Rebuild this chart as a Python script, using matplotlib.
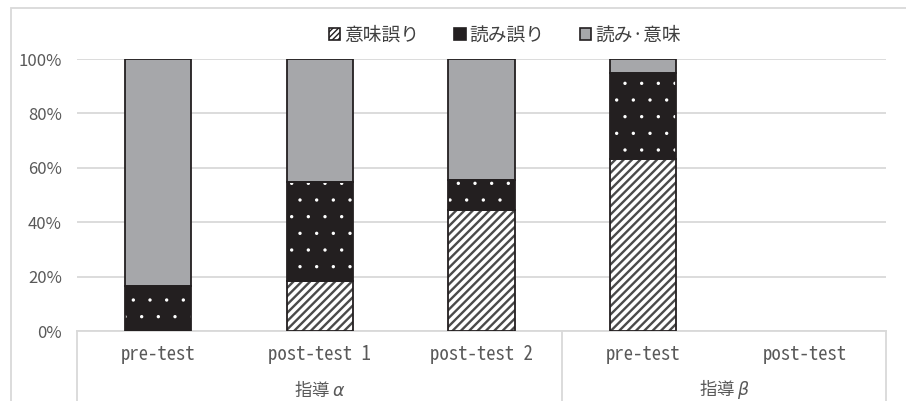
import matplotlib
matplotlib.use("Agg")
import matplotlib.pyplot as plt
import matplotlib.ticker as mticker
from matplotlib.patches import Patch, Rectangle
import numpy as np

plt.rcParams["font.family"] = ["Noto Sans CJK JP", "DejaVu Sans"]
plt.rcParams["mathtext.fontset"] = "dejavusans"

# カテゴリ / グループ
categories = ["pre-test", "post-test 1", "post-test 2", "pre-test", "post-test"]
group_labels = [r"指導 $\alpha$", r"指導 $\beta$"]
group_sizes = [3, 2]

# 各区分の割合 (%)
imi_err = [0.0, 18.2, 44.4, 63.2, 0.0]     # 意味誤り
yomi_err = [16.7, 36.4, 11.1, 31.6, 0.0]   # 読み誤り
yomi_imi = [83.3, 45.4, 44.5, 5.2, 0.0]    # 読み・意味
series_names = ["意味誤り", "読み誤り", "読み·意味"]

GRID = "#d9d9d9"
TXT = "#595959"
EDGE = "#231f20"
GRAY = "#a6a7aa"
MONO = ["Noto Sans Mono CJK JP", "DejaVu Sans Mono"]

fig = plt.figure(figsize=(9.06, 4.01), dpi=100)
ax = fig.add_axes([77 / 906, 1 - 331 / 401, 809 / 906, 272 / 401])

x = np.arange(len(categories))
w = 0.41


def draw_segment(xs, bottoms, heights, face, hatch=None, hatch_color=None, hatch_lw=1.0):
    for xi, b, h in zip(xs, bottoms, heights):
        if h <= 0:
            continue
        with plt.rc_context({"hatch.linewidth": hatch_lw}):
            if hatch:
                ax.bar(xi, h, w, bottom=b, color=face, edgecolor=hatch_color,
                       hatch=hatch, linewidth=0, zorder=3)
            else:
                ax.bar(xi, h, w, bottom=b, color=face, linewidth=0, zorder=3)
        ax.bar(xi, h, w, bottom=b, fill=False, edgecolor=EDGE,
               linewidth=1.3, zorder=4)


b0 = np.zeros(len(x))
draw_segment(x, b0, imi_err, "white", "////", "#4a4a4a", 1.7)
b1 = b0 + np.array(imi_err)
draw_segment(x, b1, yomi_err, EDGE, ".", "white", 0.0)
b2 = b1 + np.array(yomi_err)
draw_segment(x, b2, yomi_imi, GRAY)

ax.set_xlim(-0.5, len(x) - 0.5)
ax.set_ylim(0, 100)
ax.yaxis.set_major_locator(mticker.MultipleLocator(20))
ax.yaxis.set_major_formatter(mticker.FuncFormatter(lambda v, _: f"{v:.0f}%"))
ax.grid(axis="y", color=GRID, linewidth=1.3, zorder=0)
ax.set_axisbelow(True)
for s in ["left", "right", "top"]:
    ax.spines[s].set_visible(False)
ax.spines["bottom"].set_color(GRID)
ax.spines["bottom"].set_linewidth(1.3)
ax.tick_params(axis="y", length=0, pad=11, labelsize=12, labelcolor=TXT)
ax.set_xticks([])

# 多段カテゴリ軸
trans = ax.get_xaxis_transform()
for xi, name in zip(x, categories):
    ax.text(xi, -0.088, name, transform=trans, ha="center", va="center",
            fontsize=13.5, color=TXT, family=MONO)
edges = np.concatenate([[0], np.cumsum(group_sizes)]) - 0.5
for e in edges:
    ax.plot([e, e], [0, -0.4], transform=trans, color=GRID, linewidth=1.3,
            clip_on=False, zorder=1)
for lab, lo, hi in zip(group_labels, edges[:-1], edges[1:]):
    ax.text((lo + hi) / 2, -0.215, lab, transform=trans, ha="center",
            va="center", fontsize=12.5, color=TXT)

handles = [
    Patch(facecolor="white", edgecolor=EDGE, hatch="//////", linewidth=1.2),
    Patch(facecolor=EDGE, edgecolor=EDGE, linewidth=1.2),
    Patch(facecolor=GRAY, edgecolor=EDGE, linewidth=1.2),
]
fig.legend(handles, series_names, loc="center", bbox_to_anchor=(0.557, 1 - 35 / 401),
           ncol=3, frameon=False, fontsize=13.5, handlelength=0.6,
           handleheight=0.6, handletextpad=0.2, columnspacing=1.9,
           labelcolor="#404040")

# グラフエリアの枠
fig.patches.append(Rectangle((11 / 906, -0.1), 1.2, 1.1 - 8 / 401,
                             transform=fig.transFigure, fill=False,
                             edgecolor=GRID, linewidth=1.3))

fig.savefig("out.png", dpi=100)
plt.close(fig)
